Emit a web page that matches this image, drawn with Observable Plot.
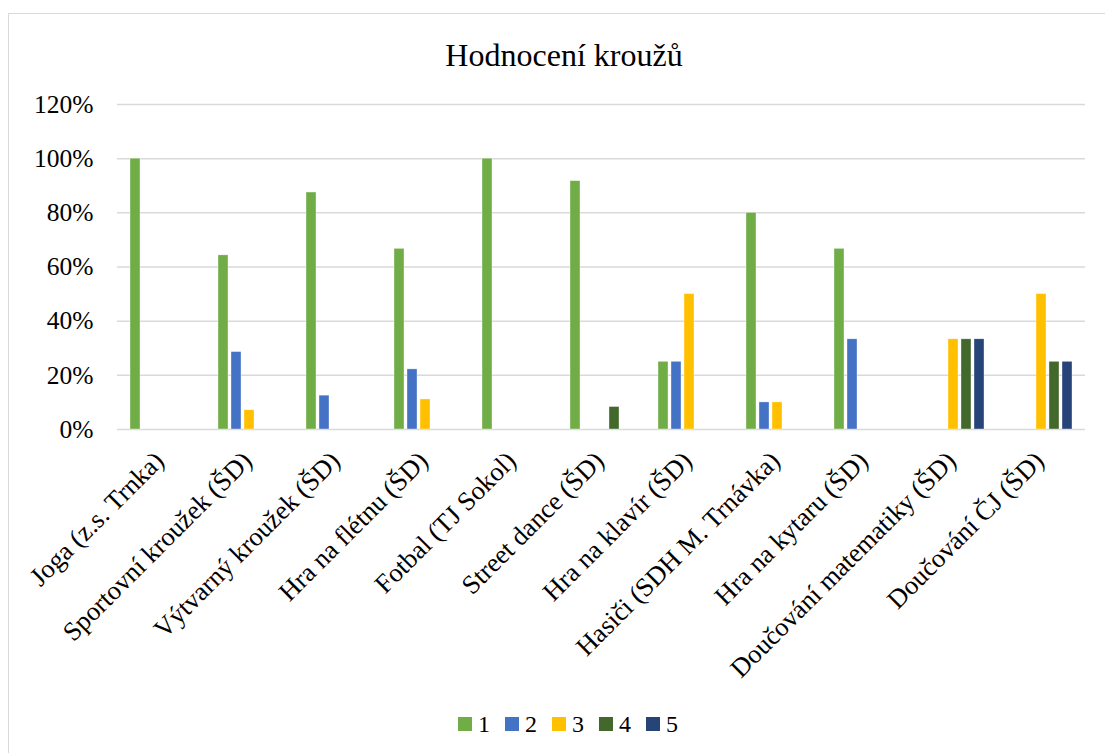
<!DOCTYPE html>
<html>
<head>
<meta charset="utf-8">
<script src="https://cdn.jsdelivr.net/npm/d3@7"></script>
<script src="https://cdn.jsdelivr.net/npm/@observablehq/plot@0.6"></script>
<style>
  html, body { margin: 0; padding: 0; background: #fff; }
  body { width: 1105px; height: 753px; position: relative; overflow: hidden; font-family: "Liberation Serif", "Times New Roman", serif; }
  #frame { position: absolute; left: 8px; top: 13px; width: 1110px; height: 760px; border: 1.5px solid #d9d9d9; box-sizing: border-box; }
  #title { position: absolute; left: 0; top: 37px; width: 1128px; text-align: center; font-size: 32px; line-height: 37px; color: #000; }
  #chart { position: absolute; left: 0; top: 80px; }
  #legend { position: absolute; top: 710px; left: 0; width: 1136px; display: flex; justify-content: center; gap: 15px; font-size: 24px; line-height: 28px; }
  .item { display: flex; align-items: center; gap: 6px; }
  .sw { width: 14px; height: 14px; display: inline-block; }
</style>
</head>
<body>
<div id="frame"></div>
<div id="title">Hodnocení kroužů</div>
<div id="chart"></div>
<div id="legend"></div>
<script>
const categories = [
  "Joga (z.s. Trnka)",
  "Sportovní kroužek (ŠD)",
  "Výtvarný kroužek (ŠD)",
  "Hra na flétnu (ŠD)",
  "Fotbal (TJ Sokol)",
  "Street dance (ŠD)",
  "Hra na klavír (ŠD)",
  "Hasiči (SDH M. Trnávka)",
  "Hra na kytaru (ŠD)",
  "Doučování matematiky (ŠD)",
  "Doučování ČJ (ŠD)"
];
const seriesNames = ["1", "2", "3", "4", "5"];
const seriesColors = ["#70AD47", "#4472C4", "#FFC000", "#43682B", "#264478"];
const s1 = [100, 64.3, 87.5, 66.7, 100, 91.7, 25, 80, 66.7, 0, 0];
const s2 = [0, 28.6, 12.5, 22.2, 0, 0, 25, 10, 33.3, 0, 0];
const s3 = [0, 7.1, 0, 11.1, 0, 0, 50, 10, 0, 33.3, 50];
const s4 = [0, 0, 0, 0, 0, 8.3, 0, 0, 0, 33.3, 25];
const s5 = [0, 0, 0, 0, 0, 0, 0, 0, 0, 33.3, 25];
const yTicks = [0, 20, 40, 60, 80, 100, 120];

const seriesValues = [s1, s2, s3, s4, s5];
const data = [];
categories.forEach((c, i) => {
  seriesNames.forEach((s, j) => {
    data.push({category: c, series: s, value: seriesValues[j][i]});
  });
});

const chart = Plot.plot({
  width: 1105,
  height: 600,
  marginTop: 24,
  marginBottom: 251,
  marginLeft: 115,
  marginRight: 18,
  style: {fontFamily: "'Liberation Serif', 'Times New Roman', serif", fontSize: "25px", color: "#000", background: "transparent", overflow: "visible"},
  fx: {domain: categories, padding: 0, label: null, axis: null},
  x: {domain: seriesNames, paddingInner: 0.25, paddingOuter: 0.925, axis: null},
  y: {domain: [0, 120], label: null, axis: null},
  color: {domain: seriesNames, range: seriesColors},
  marks: [
    Plot.ruleY(yTicks, {stroke: "#d9d9d9", strokeWidth: 1.5}),
    Plot.barY(data.filter(d => d.value > 0), {fx: "category", x: "series", y: "value", fill: "series", stroke: "white", strokeWidth: 0.6, strokeOpacity: 0.6}),
    Plot.axisY({ticks: yTicks, tickFormat: d => d + "%", tickSize: 0, tickPadding: 24, label: null, fontSize: 25.5}),
    Plot.axisFx({
      anchor: "bottom",
      tickRotate: -45,
      tickSize: 0,
      tickPadding: 4,
      dy: 23,
      dx: -2,
      label: null,
      fontSize: 26.5,
      textAnchor: "end"
    })
  ]
});
document.getElementById("chart").appendChild(chart);

const legend = document.getElementById("legend");
seriesNames.forEach((s, i) => {
  const it = document.createElement("div");
  it.className = "item";
  const sw = document.createElement("span");
  sw.className = "sw";
  sw.style.background = seriesColors[i];
  const t = document.createElement("span");
  t.textContent = s;
  it.appendChild(sw);
  it.appendChild(t);
  legend.appendChild(it);
});
</script>
</body>
</html>
